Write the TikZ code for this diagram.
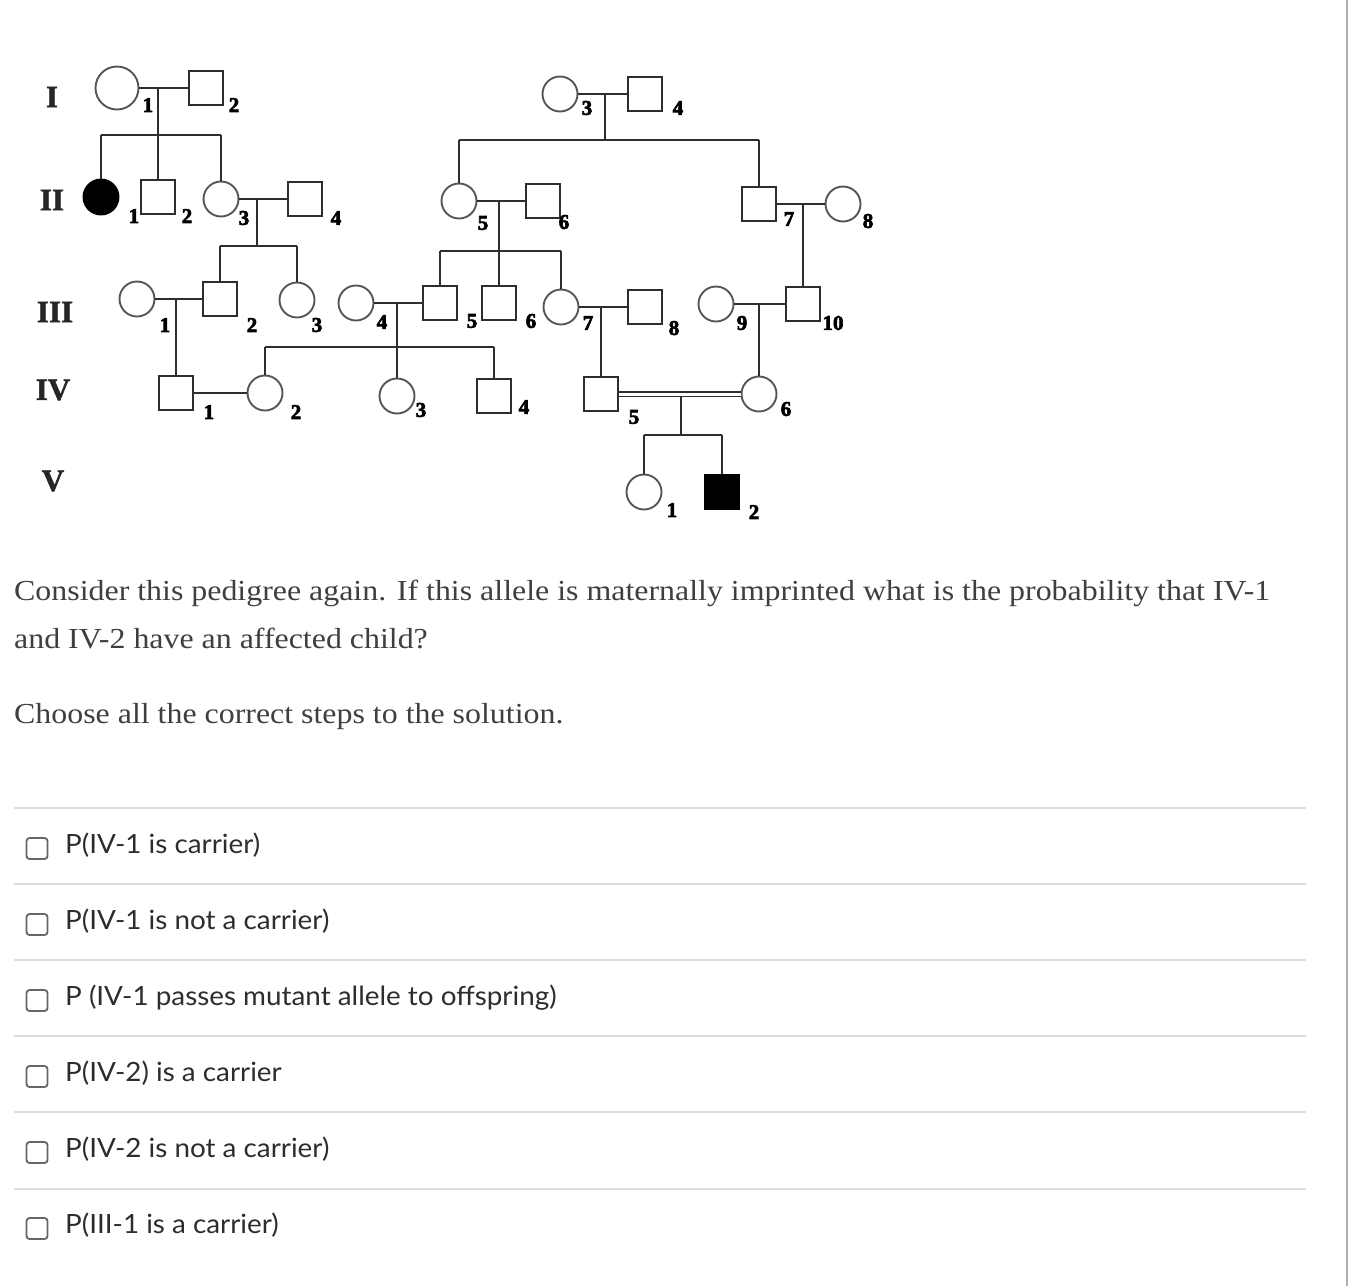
\documentclass[tikz,border=0pt]{standalone}
\usepackage{fontspec}
\setmainfont{Liberation Serif}
\newfontfamily\lato[FakeStretch=1.05]{Lato}
\newfontfamily\qfont[FakeStretch=1.1]{Liberation Serif}
\newfontfamily\numfont[FakeBold=3]{Liberation Serif Bold}
\newfontfamily\genfont[FakeBold=1.5]{Liberation Serif Bold}
\definecolor{ped}{HTML}{2E2E2E}
\definecolor{circ}{HTML}{555555}
\definecolor{qtext}{HTML}{3F3F3F}
\definecolor{otext}{HTML}{2D2D2D}
\definecolor{sep}{HTML}{DCDCDC}
\definecolor{edge}{HTML}{B0B0B0}
\definecolor{boxc}{HTML}{666666}
\begin{document}
\begin{tikzpicture}[x=1pt,y=-1pt,
  fem/.style={circle,draw=circ,line width=1.9pt,minimum size=35pt,inner sep=0pt},
  mal/.style={rectangle,draw=ped,line width=1.9pt,minimum size=34pt,inner sep=0pt},
  aff/.style={fill=black,draw=black},
  lnk/.style={draw=ped,line width=1.9pt},
  num/.style={font=\numfont\fontsize{21}{21}\selectfont,text=black,inner sep=0pt},
  gen/.style={font=\genfont\fontsize{31}{31}\selectfont,text=black!85,inner sep=0pt},
  qtxt/.style={anchor=base west,inner sep=0pt,text=qtext,font=\qfont\fontsize{29}{29}\selectfont},
  opt/.style={anchor=base west,inner sep=0pt,text=otext,font=\lato\fontsize{26.5}{26.5}\selectfont},
  cbox/.style={rectangle,rounded corners=3pt,draw=boxc,line width=1.8pt,minimum size=21pt,inner sep=0pt},
  sepline/.style={draw=sep,line width=2pt}]
\useasboundingbox (0,0) rectangle (1348,1286);
\fill[white] (0,0) rectangle (1348,1286);
\draw[draw=edge,line width=2pt] (1346.5,0) -- (1346.5,1286);

% generation labels
\node[gen] (gI) at (52,97) {I};
\node[gen] (gII) at (52,200) {II};
\node[gen] (gIII) at (55,312) {III};
\node[gen] (gIV) at (53,390) {IV};
\node[gen] (gV) at (53,481) {V};

% individuals
\node[fem,minimum size=43pt] (I1) at (117,88) {};
\node[mal] (I2) at (206,88) {};
\node[fem] (I3) at (560,94) {};
\node[mal] (I4) at (645,94) {};
\node[fem,aff] (II1) at (101,197) {};
\node[mal] (II2) at (158,197) {};
\node[fem] (II3) at (221,199) {};
\node[mal] (II4) at (305,199) {};
\node[fem] (II5) at (459,201) {};
\node[mal] (II6) at (543,201) {};
\node[mal] (II7) at (759,204) {};
\node[fem] (II8) at (843,204) {};
\node[fem] (III1) at (137,299) {};
\node[mal] (III2) at (220,299) {};
\node[fem] (III3) at (297,300) {};
\node[fem] (III4) at (356,303) {};
\node[mal] (III5) at (440,303) {};
\node[mal] (III6) at (499,303) {};
\node[fem] (III7) at (561,307) {};
\node[mal] (III8) at (645,307) {};
\node[fem] (III9) at (716,304) {};
\node[mal] (III10) at (803,304) {};
\node[mal] (IV1) at (176,393) {};
\node[fem] (IV2) at (265,393) {};
\node[fem] (IV3) at (397,396) {};
\node[mal] (IV4) at (494,396) {};
\node[mal] (IV5) at (601,394) {};
\node[fem] (IV6) at (759,394) {};
\node[fem] (V1) at (644,492) {};
\node[mal,aff] (V2) at (722,492) {};

% numbers
\node[num] (nI1) at (148,105) {1};
\node[num] (nI2) at (234,105) {2};
\node[num] (nI3) at (587,108) {3};
\node[num] (nI4) at (678,108) {4};
\node[num] (nII1) at (134,216) {1};
\node[num] (nII2) at (187,216) {2};
\node[num] (nII3) at (244,218) {3};
\node[num] (nII4) at (336,218) {4};
\node[num] (nII5) at (483,223) {5};
\node[num] (nII6) at (564,222) {6};
\node[num] (nII7) at (789,219) {7};
\node[num] (nII8) at (868,221) {8};
\node[num] (nIII1) at (165,325) {1};
\node[num] (nIII2) at (252,325) {2};
\node[num] (nIII3) at (317,325) {3};
\node[num] (nIII4) at (382,322) {4};
\node[num] (nIII5) at (472,321) {5};
\node[num] (nIII6) at (531,321) {6};
\node[num] (nIII7) at (588,323) {7};
\node[num] (nIII8) at (674,328) {8};
\node[num] (nIII9) at (742,323) {9};
\node[num] (nIII10) at (833,323) {10};
\node[num] (nIV1) at (209,412) {1};
\node[num] (nIV2) at (296,412) {2};
\node[num] (nIV3) at (421,410) {3};
\node[num] (nIV4) at (524,407) {4};
\node[num] (nIV5) at (634,417) {5};
\node[num] (nIV6) at (786,409) {6};
\node[num] (nV1) at (672,510) {1};
\node[num] (nV2) at (754,512) {2};

% couples and descent
\draw[lnk] (I1) -- (I2);
\coordinate (mI12) at (158,88);
\coordinate (sI12) at (158,135);
\draw[lnk] (mI12) -- (sI12);
\draw[lnk] (II1 |- sI12) -- (II3 |- sI12);
\draw[lnk] (II1 |- sI12) -- (II1);
\draw[lnk] (sI12) -- (II2);
\draw[lnk] (II3 |- sI12) -- (II3);

\draw[lnk] (I3) -- (I4);
\coordinate (mI34) at (605,94);
\coordinate (sI34) at (605,140);
\draw[lnk] (mI34) -- (sI34);
\draw[lnk] (II5 |- sI34) -- (II7 |- sI34);
\draw[lnk] (II5 |- sI34) -- (II5);
\draw[lnk] (II7 |- sI34) -- (II7);

\draw[lnk] (II3) -- (II4);
\coordinate (mII34) at (257,199);
\coordinate (sII34) at (257,246);
\draw[lnk] (mII34) -- (sII34);
\draw[lnk] (III2 |- sII34) -- (III3 |- sII34);
\draw[lnk] (III2 |- sII34) -- (III2);
\draw[lnk] (III3 |- sII34) -- (III3);

\draw[lnk] (II5) -- (II6);
\coordinate (mII56) at (499,201);
\coordinate (sII56) at (499,251);
\draw[lnk] (mII56) -- (sII56);
\draw[lnk] (III5 |- sII56) -- (III7 |- sII56);
\draw[lnk] (III5 |- sII56) -- (III5);
\draw[lnk] (sII56) -- (III6);
\draw[lnk] (III7 |- sII56) -- (III7);

\draw[lnk] (II7) -- (II8);
\coordinate (mII78) at (803,204);
\draw[lnk] (mII78) -- (III10);

\draw[lnk] (III1) -- (III2);
\coordinate (mIII12) at (176,299);
\draw[lnk] (mIII12) -- (IV1);

\draw[lnk] (III4) -- (III5);
\coordinate (mIII45) at (397,303);
\coordinate (sIII45) at (397,347);
\draw[lnk] (mIII45) -- (sIII45);
\draw[lnk] (IV2 |- sIII45) -- (IV4 |- sIII45);
\draw[lnk] (IV2 |- sIII45) -- (IV2);
\draw[lnk] (sIII45) -- (IV3);
\draw[lnk] (IV4 |- sIII45) -- (IV4);

\draw[lnk] (III7) -- (III8);
\coordinate (mIII78) at (601,307);
\draw[lnk] (mIII78) -- (IV5);

\draw[lnk] (III9) -- (III10);
\coordinate (mIII910) at (759,304);
\draw[lnk] (mIII910) -- (IV6);

\draw[lnk] (IV1) -- (IV2);

\draw[draw=ped,line width=1.8pt,double=white,double distance=3pt] (IV5) -- (IV6);
\coordinate (mIV56) at (681,397);
\coordinate (sIV56) at (681,435);
\draw[lnk] (mIV56) -- (sIV56);
\draw[lnk] (V1 |- sIV56) -- (V2 |- sIV56);
\draw[lnk] (V1 |- sIV56) -- (V1);
\draw[lnk] (V2 |- sIV56) -- (V2);

% question text
\node[qtxt] (q1) at (14,600) {Consider this pedigree again. If this allele is maternally imprinted what is the probability that IV-1};
\node[qtxt] (q2) at (14,648) {and IV-2 have an affected child?};
\node[qtxt] (q3) at (14,723) {Choose all the correct steps to the solution.};

% separators
\foreach \yy in {807.5,883.7,960,1036.2,1112.4,1188.6} {
  \draw[sepline] (14,\yy) -- (1306,\yy);
}

% options
\node[cbox] (c1) at (37,848.5) {};
\node[opt] (o1) at (65,853) {P(IV-1 is carrier)};
\node[cbox] (c2) at (37,924.5) {};
\node[opt] (o2) at (65,929) {P(IV-1 is not a carrier)};
\node[cbox] (c3) at (37,1000.5) {};
\node[opt] (o3) at (65,1005) {P (IV-1 passes mutant allele to offspring)};
\node[cbox] (c4) at (37,1076.5) {};
\node[opt] (o4) at (65,1081) {P(IV-2) is a carrier};
\node[cbox] (c5) at (37,1152.5) {};
\node[opt] (o5) at (65,1157) {P(IV-2 is not a carrier)};
\node[cbox] (c6) at (37,1228.5) {};
\node[opt] (o6) at (65,1233) {P(III-1 is a carrier)};
\end{tikzpicture}
\end{document}
